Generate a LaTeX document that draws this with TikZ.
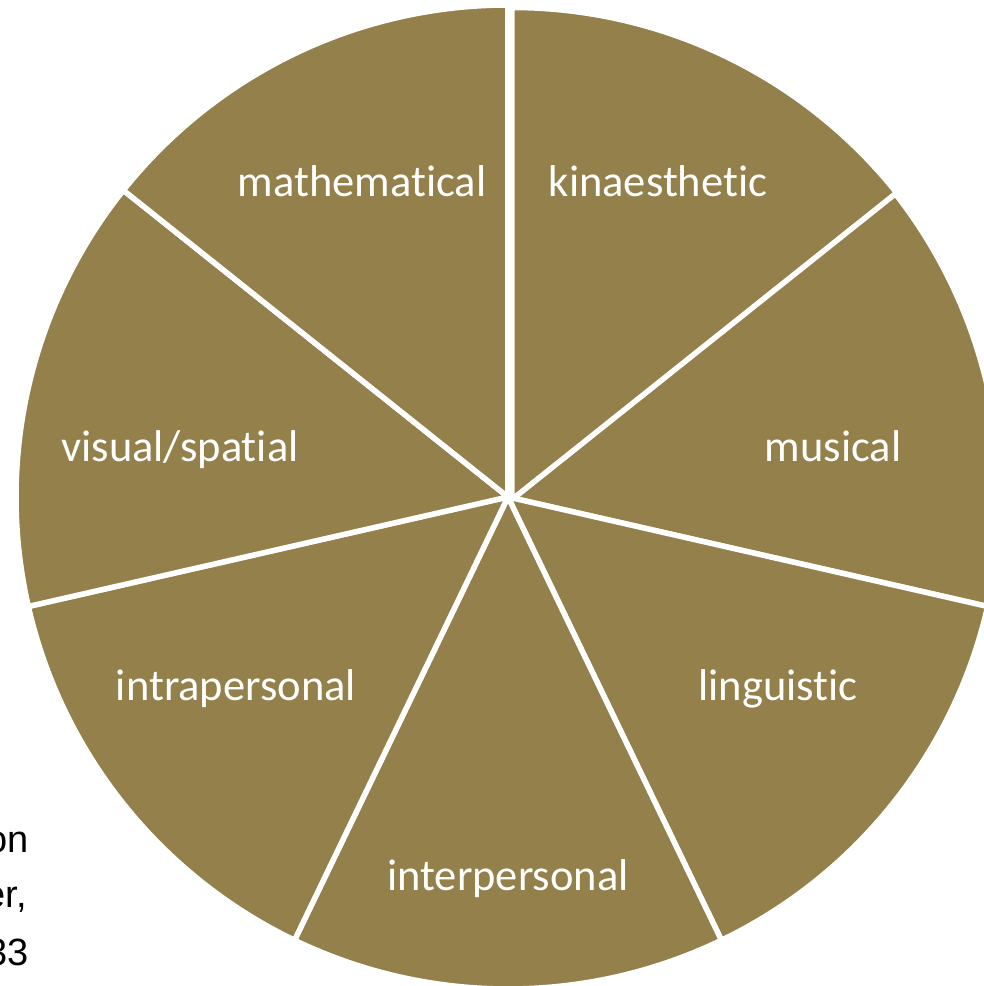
\documentclass[tikz,border=0pt]{standalone}
\usepackage{fontspec}
\setmainfont{Carlito}[Ligatures=CommonOff]
\newfontfamily\arialfont{Liberation Sans}
\definecolor{olivebrown}{RGB}{148,128,74}
\tikzset{
  slice/.style={fill=olivebrown, draw=white, line width=5.5pt, line join=round},
  sectortext/.style={text=white, font=\fontsize{44.5}{53}\selectfont, anchor=base, inner sep=0pt},
  sourcetext/.style={text=black, font=\arialfont\fontsize{38}{46}\selectfont, anchor=base east, inner sep=0pt}
}
\begin{document}
\begin{tikzpicture}[x=1pt,y=1pt]
    \useasboundingbox (-508,-489) rectangle (476,497);
    \clip (-508,-489) rectangle (476,497);

    % Text behind the chart
    \node[sourcetext] (srcone) at (-479,-355) {on};
    \node[sourcetext] (srctwo) at (-481,-410) {er,};
    \node[sourcetext] (srcthree) at (-479,-468) {33};

    % Draw the slices
    \draw[slice] (0,0) -- (38.571:492pt) arc[start angle=38.571, end angle=-12.857, radius=492pt] -- cycle;
    \draw[slice] (0,0) -- (-12.857:492pt) arc[start angle=-12.857, end angle=-64.286, radius=492pt] -- cycle;
    \draw[slice] (0,0) -- (-64.286:492pt) arc[start angle=-64.286, end angle=-115.714, radius=492pt] -- cycle;
    \draw[slice] (0,0) -- (-115.714:492pt) arc[start angle=-115.714, end angle=-167.143, radius=492pt] -- cycle;
    \draw[slice] (0,0) -- (-167.143:492pt) arc[start angle=-167.143, end angle=-218.571, radius=492pt] -- cycle;
    \draw[slice] (0,0) -- (141.429:492pt) arc[start angle=141.429, end angle=90, radius=492pt] -- cycle;

    % Pulled out slice
    \draw[slice, shift={(4,-2.5)}] (0,0) -- (90:492pt) arc[start angle=90, end angle=38.571, radius=492pt] -- cycle;

    % Labels for the slices
    \node[sectortext] (kinaesthetic) at (150,300) {kinaesthetic};
    \node[sectortext] (musical) at (325,36) {musical};
    \node[sectortext] (linguistic) at (270,-203) {linguistic};
    \node[sectortext] (interpersonal) at (0,-393) {interpersonal};
    \node[sectortext] (intrapersonal) at (-272,-203) {intrapersonal};
    \node[sectortext] (visual) at (-328,36) {visual/spatial};
    \node[sectortext] (mathematical) at (-146,300) {mathematical};

\end{tikzpicture}
\end{document}
